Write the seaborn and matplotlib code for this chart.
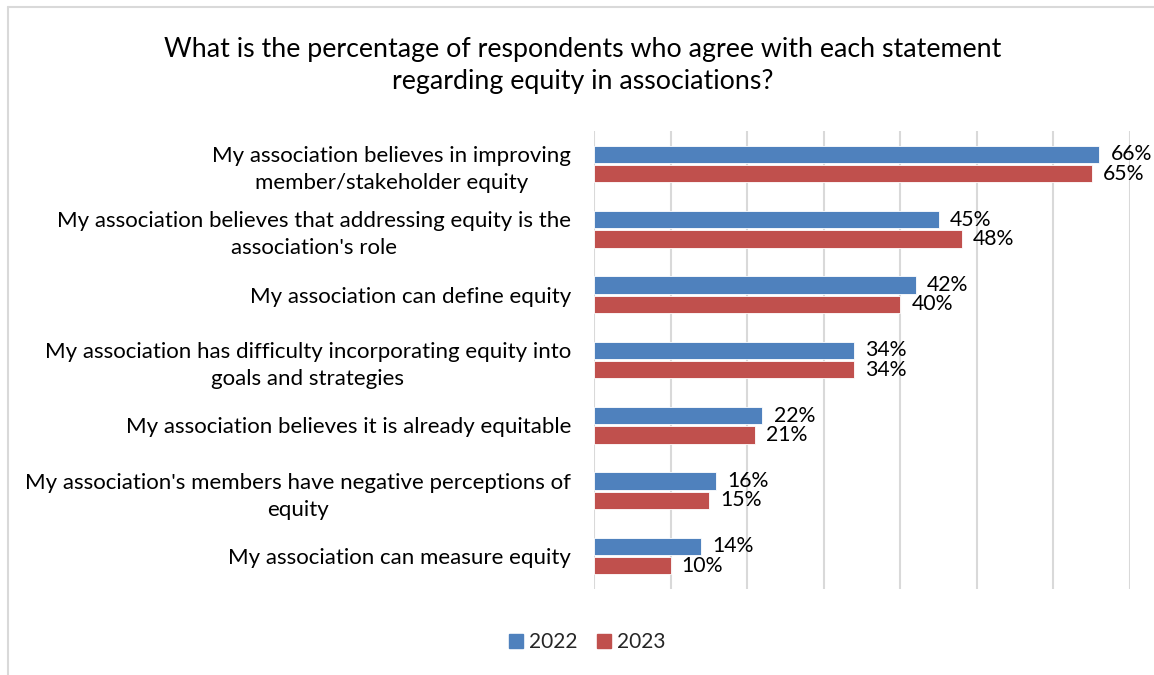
import matplotlib
matplotlib.use("Agg")
import matplotlib.pyplot as plt
from matplotlib.lines import Line2D
import seaborn as sns
import pandas as pd

# Survey statements and share of respondents agreeing (%)
statements = [
    "My association believes in improving\nmember/stakeholder equity",
    "My association believes that addressing equity is the\nassociation's role",
    "My association can define equity",
    "My association has difficulty incorporating equity into\ngoals and strategies",
    "My association believes it is already equitable",
    "My association's members have negative perceptions of\nequity",
    "My association can measure equity",
]
values_2022 = [66, 45, 42, 34, 22, 16, 14]
values_2023 = [65, 48, 40, 34, 21, 15, 10]
years = ["2022", "2023"]
colors = ["#4F81BD", "#C0504D"]

df = pd.DataFrame({
    "statement": statements * 2,
    "year": [years[0]] * len(statements) + [years[1]] * len(statements),
    "pct": values_2022 + values_2023,
})

sns.set_theme(style="white")
plt.rcParams["font.family"] = ["Lato", "DejaVu Sans"]

fig = plt.figure(figsize=(11.54, 6.75), dpi=100)
ax = fig.add_axes([0.5147, 0.1279, 0.4645, 0.6776])

sns.barplot(
    data=df, y="statement", x="pct", hue="year", order=statements,
    hue_order=years, palette=colors, saturation=1, orient="h", width=0.59,
    gap=0.09, edgecolor="white", linewidth=0.6, legend=False, ax=ax, zorder=3,
)

ax.set_xlim(0, 70)
ax.set_ylim(6.5, -0.5)
ax.set_xticks(range(0, 71, 10))
ax.set_xticklabels([])
ax.tick_params(axis="x", length=0)
ax.tick_params(axis="y", length=0, pad=16.5)
ax.xaxis.grid(True, color="#D9D9D9", linewidth=1.5, zorder=0)
ax.yaxis.grid(False)
ax.set_axisbelow(True)
for s in ax.spines.values():
    s.set_visible(False)
ax.set_xlabel("")
ax.set_ylabel("")

for lbl in ax.get_yticklabels():
    lbl.set_fontsize(16)
    lbl.set_color("black")
    lbl.set_multialignment("center")
    lbl.set_linespacing(1.45)

# Value labels at the bar ends
for container in ax.containers:
    ax.bar_label(container, labels=[f"{v:.0f}%" for v in container.datavalues],
                 padding=8, fontsize=15.3, color="black")

fig.text(0.505, 0.903, "What is the percentage of respondents who agree with each statement\nregarding equity in associations?",
         ha="center", va="center", fontsize=19.3, color="black", linespacing=1.35)

handles = [Line2D([0], [0], marker="s", linestyle="", markersize=9.5,
                  markerfacecolor=c, markeredgecolor=c) for c in colors]
fig.legend(handles, years, loc="center", bbox_to_anchor=(0.508, 0.049),
           ncol=2, frameon=False, fontsize=15, handletextpad=0.2,
           columnspacing=0.8, handlelength=0.9)

# Light chart-area border
fig.add_artist(Line2D([0.0065, 0.0065], [0, 0.99], transform=fig.transFigure,
                      color="#D9D9D9", linewidth=1.5))
fig.add_artist(Line2D([0.0065, 1.0], [0.99, 0.99], transform=fig.transFigure,
                      color="#D9D9D9", linewidth=1.5))

fig.savefig("out.png", dpi=100)
